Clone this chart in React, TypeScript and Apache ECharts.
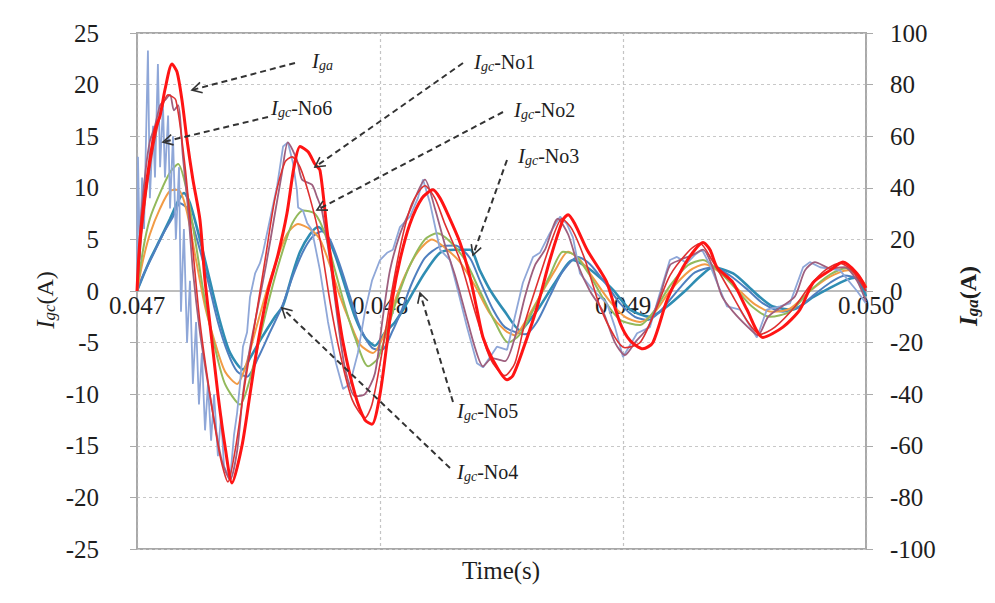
import React, { useEffect, useRef } from 'react';
import * as echarts from 'echarts';

// time in microseconds, value in A
const iga: [number, number][] = [
  [47000, 0], [47012, 19.6], [47041, 43.2], [47074, 62.4], [47095, 68], [47115, 78], [47144, 88], [47165, 84.8],
  [47185, 74], [47206, 58.4], [47230, 43.2], [47259, 27.6], [47280, 4], [47309, -20], [47333, -40], [47362, -60],
  [47391, -74.4], [47432, -60], [47465, -40], [47498, -20], [47539, 0], [47580, 14], [47617, 30], [47646, 48],
  [47671, 56], [47704, 54], [47732, 49.2], [47753, 46.8], [47782, 23.6], [47815, 0], [47848, -20], [47897, -40],
  [47938, -50], [47967, -51.6], [48000, -40], [48029, -20], [48053, -2], [48082, 12], [48123, 26], [48173, 36],
  [48218, 39.2], [48247, 36], [48276, 30.4], [48329, 18.8], [48370, 5.6], [48399, -7.2], [48424, -18], [48465, -26.8],
  [48523, -34.4], [48547, -32.8], [48588, -22.8], [48646, -6.4], [48699, 12], [48753, 27.6], [48774, 29.6], [48802, 26],
  [48852, 16], [48905, 8], [48934, 3.2], [48988, -12.4], [49029, -19.2], [49082, -22.4], [49123, -20], [49181, -3.6],
  [49247, 9.2], [49296, 16], [49329, 18.8], [49358, 16], [49387, 9.2], [49453, 3.2], [49510, -7.2], [49576, -18],
  [49658, -14], [49728, -7.2], [49782, 3.2], [49852, 8], [49905, 11.2], [49963, 6.8], [50000, 1.2],
];

const igcNo1: [number, number][] = [
  [47000, 0], [47021, 6], [47053, 12], [47095, 17], [47128, 19], [47160, 18.5], [47198, 12], [47230, 4], [47259, -3],
  [47300, -10], [47342, -16], [47374, -18.5], [47407, -15], [47444, -9], [47486, -3], [47527, 3], [47568, 9],
  [47609, 12.5], [47638, 13], [47671, 12], [47712, 9], [47753, 5], [47794, -1], [47835, -6], [47885, -10.5],
  [47938, -12.3], [47967, -11], [48008, -6], [48049, 0], [48090, 5], [48132, 8.5], [48185, 10.2], [48226, 9],
  [48267, 6.5], [48329, 3], [48391, -2], [48453, -6.5], [48514, -8.2], [48555, -7], [48597, -3], [48658, 1.5],
  [48708, 5], [48749, 7], [48790, 6], [48844, 3], [48905, -1.5], [48967, -4.5], [49008, -5.5], [49070, -5],
  [49132, -2], [49193, 1.5], [49276, 4], [49317, 4.6], [49366, 3], [49440, 0], [49514, -3], [49564, -4.2],
  [49625, -3.5], [49708, -1.5], [49769, 0.5], [49831, 2], [49893, 2.7], [49942, 2], [50000, 0],
];

const igcNo2: [number, number][] = [
  [47000, 0], [47025, 4], [47053, 7], [47095, 9.5], [47136, 11.5], [47169, 12.3], [47202, 10], [47239, 5], [47280, -1],
  [47321, -5.5], [47362, -9], [47424, -11], [47465, -8.5], [47506, -4.5], [47547, -0.5], [47588, 3], [47638, 6.5],
  [47683, 7.8], [47732, 7.5], [47774, 5.5], [47815, 2], [47856, -1.5], [47897, -4.5], [47951, -7.3], [47992, -6.5],
  [48033, -3.5], [48074, -0.5], [48123, 2.5], [48185, 5], [48235, 5.6], [48288, 4.8], [48350, 3], [48411, 0],
  [48473, -3], [48527, -5], [48576, -4.2], [48638, -1.5], [48699, 1.5], [48753, 3.8], [48802, 3.5], [48864, 1.5],
  [48926, -1], [48988, -2.8], [49070, -3.3], [49132, -1.8], [49193, 0.5], [49267, 2.5], [49329, 3], [49391, 2],
  [49461, 0.3], [49531, -1.5], [49605, -2.5], [49687, -2], [49769, 0], [49852, 1.6], [49918, 2.2], [49967, 1.5],
  [50000, 0.3],
];

const igcNo3: [number, number][] = [
  [47000, 0], [47025, 1.5], [47066, 3.5], [47107, 5.5], [47148, 7.2], [47177, 8.5], [47206, 8], [47247, 5], [47292, 1],
  [47333, -3], [47374, -6], [47412, -7.8], [47453, -8.3], [47498, -6.5], [47547, -4], [47597, -1.5], [47642, 1.5],
  [47683, 3.8], [47720, 5.2], [47761, 5.8], [47794, 5], [47835, 2.5], [47876, -0.5], [47918, -3.5], [47967, -5.5],
  [48008, -5.7], [48049, -4], [48090, -1.8], [48132, 0.8], [48185, 3.2], [48247, 4.3], [48309, 4.4], [48370, 3.2],
  [48411, 1], [48465, -1.8], [48514, -3.5], [48597, -4.2], [48646, -3], [48699, -0.5], [48749, 1.8], [48815, 3.3],
  [48864, 2.6], [48926, 0.8], [48988, -1.2], [49049, -2.5], [49103, -2.8], [49152, -2], [49234, 0.3], [49296, 1.8],
  [49370, 2.3], [49440, 1.5], [49514, 0.1], [49576, -1.2], [49658, -2], [49728, -1.5], [49790, -0.3], [49852, 0.8],
  [49913, 1.5], [49963, 1.2], [50000, 0],
];

const igcNo4: [number, number][] = [
  [47000, 0], [47053, 3], [47095, 5], [47136, 7], [47169, 8.7], [47193, 9.5], [47218, 8.5], [47259, 5], [47300, 1],
  [47342, -3], [47383, -6], [47436, -7.6], [47465, -6.5], [47514, -4.5], [47568, -2.5], [47601, -1.4], [47638, 1.5],
  [47671, 3.8], [47712, 5.5], [47745, 6.2], [47778, 5.5], [47815, 3.5], [47856, 0.5], [47897, -2.5], [47938, -4.5],
  [47979, -5.3], [48021, -4], [48062, -3], [48103, -1.5], [48144, 0.2], [48185, 1.8], [48247, 3.7], [48309, 4],
  [48370, 4], [48411, 2], [48453, 0.1], [48514, -2], [48576, -3.8], [48617, -2.8], [48658, -1.5], [48720, 0.8],
  [48794, 3], [48852, 2.3], [48905, 1.3], [48959, 0.1], [49029, -1.8], [49111, -2.5], [49181, -1.5], [49255, 0],
  [49317, 1.4], [49370, 2.3], [49453, 1.7], [49522, 0.3], [49564, -0.6], [49617, -1.5], [49699, -1.8], [49782, -0.6],
  [49852, 0.3], [49922, 1.1], [49955, 1.3], [50000, -0.5],
];

const igcNo5: [number, number][] = [
  [47000, 0], [47025, 3], [47053, 5.5], [47095, 8], [47136, 9.7], [47169, 9.8], [47202, 8], [47239, 3.5], [47280, -1.5],
  [47321, -5], [47362, -7.8], [47412, -9], [47444, -7.5], [47486, -4], [47527, -0.5], [47568, 2.5], [47617, 5.5],
  [47663, 6.5], [47712, 6], [47753, 5], [47794, 2.5], [47835, -0.5], [47876, -3], [47918, -5.2], [47971, -6],
  [48012, -4.5], [48053, -1.5], [48103, 1.5], [48156, 3.8], [48214, 5], [48267, 4.2], [48329, 2.8], [48391, 0.5],
  [48453, -2.2], [48514, -3.8], [48555, -4.3], [48597, -3], [48658, -0.5], [48720, 2], [48774, 3.8], [48823, 3],
  [48885, 1], [48946, -1], [49008, -2.5], [49070, -3], [49132, -2], [49193, 0], [49276, 2], [49337, 2.6], [49399, 1.8],
  [49481, 0], [49543, -1.3], [49613, -2], [49687, -1.7], [49769, 0], [49852, 1.4], [49926, 2], [49967, 1.5], [50000, 0.5],
];

const igcNo6: [number, number][] = [
  [47000, 0], [47016, 7], [47037, 12], [47053, 14.5], [47074, 16], [47095, 18], [47115, 18.5], [47136, 19], [47152, 17.5],
  [47169, 18], [47189, 13], [47210, 8], [47230, 2], [47259, -4], [47292, -9], [47321, -13], [47350, -16.5], [47383, -18.3],
  [47412, -15.5], [47436, -10], [47465, -5.5], [47498, -1.5], [47531, 2.5], [47564, 7], [47597, 11.5], [47621, 14.4],
  [47658, 12.7], [47679, 10.8], [47720, 10.3], [47741, 9.1], [47761, 7.8], [47794, 3], [47827, -3], [47856, -7.5],
  [47897, -10.2], [47938, -10], [47979, -8], [48012, -2.5], [48041, 2], [48082, 5.5], [48123, 7.8], [48185, 10.8],
  [48226, 8], [48267, 4.5], [48309, 1.5], [48350, -2], [48391, -5.5], [48424, -7.3], [48461, -6.5], [48514, -6.8],
  [48555, -4.5], [48597, -0.5], [48638, 2.5], [48679, 4], [48732, 7], [48774, 5.5], [48815, 2.5], [48864, 0],
  [48918, -2], [48967, -5], [49008, -6.2], [49049, -5], [49103, -3.5], [49152, -0.5], [49193, 2.5], [49234, 3],
  [49288, 3.5], [49329, 4], [49366, 2.5], [49407, -0.5], [49453, -2], [49514, -3.5], [49555, -4.3], [49597, -2.5],
  [49654, -1.5], [49708, -0.5], [49749, 2], [49790, 2.8], [49852, 2.2], [49913, 2.3], [49963, 1], [50000, -1],
];

const igcFast: [number, number][] = [
  [47000, 0], [47004, 13], [47012, 3], [47021, 11], [47029, 6], [47045, 23.3], [47053, 9], [47066, 16], [47074, 11],
  [47086, 22], [47095, 12], [47107, 18], [47115, 11], [47128, 17], [47136, 8], [47148, 15], [47160, 5], [47173, 12],
  [47181, -2], [47193, 6], [47206, -5], [47218, 1], [47230, -9], [47243, -3], [47255, -11], [47267, -6], [47280, -13.5],
  [47292, -9], [47305, -14.5], [47317, -10], [47333, -16], [47346, -12], [47358, -17], [47383, -18.3], [47399, -14],
  [47412, -11.8], [47424, -9], [47436, -5.4], [47453, -4], [47465, -0.6], [47486, 1.7], [47506, 2.7], [47518, 3.7],
  [47547, 6.9], [47576, 10.1], [47601, 14], [47621, 14.4], [47642, 12.4], [47658, 9.8], [47663, 8.1], [47683, 7.8],
  [47700, 6.6], [47720, 5.9], [47753, 2], [47786, -3], [47819, -7], [47848, -9.5], [47876, -9], [47909, -6],
  [47938, -2], [47967, 1], [48000, 3], [48029, 3.7], [48053, 4], [48082, 6.2], [48123, 7.2], [48156, 9], [48177, 10.8],
  [48206, 8.5], [48218, 7.2], [48247, 4], [48288, 3], [48321, 0], [48358, -3.5], [48399, -7], [48424, -7.4],
  [48453, -6.4], [48481, -5.4], [48523, -5.7], [48555, -2.5], [48588, 0.8], [48630, 3.3], [48658, 3.7], [48699, 5.6],
  [48741, 7.2], [48769, 6.5], [48794, 5.2], [48823, 1.7], [48876, 0.1], [48934, -1.2], [48967, -3.5], [49000, -6.4],
  [49058, -4.1], [49111, -3.5], [49152, -0.2], [49193, 3], [49222, 3.3], [49263, 2.7], [49296, 3.5], [49325, 4],
  [49358, 2.5], [49387, 0.8], [49428, -1.5], [49481, -1.8], [49551, -4.5], [49592, -1.8], [49646, -1.5], [49687, -1.2],
  [49741, 2.3], [49769, 2.8], [49811, 2.3], [49893, 2], [49963, 0], [50000, -1.2],
];

const leftTicks = { min: -25, max: 25, step: 5 };
const rightTicks = { min: -100, max: 100, step: 20 };
const timeTicks = { min: 47000, max: 50000, step: 1000 };

const SERIF = '"Liberation Serif", "Times New Roman", serif';
const TEXT = '#1e1e1e';

function subText(sub: string, tail: string, bold = false, size = 20) {
  const w = bold ? 'bold' : 'normal';
  return {
    text: `{i|I}{s|${sub}}{n|${tail}}`,
    rich: {
      i: { fontFamily: SERIF, fontStyle: 'italic', fontWeight: w, fontSize: size + 1, lineHeight: size + 2, fill: TEXT, color: TEXT },
      s: { fontFamily: SERIF, fontStyle: 'italic', fontWeight: w, fontSize: Math.round(size * 0.7), lineHeight: 8, verticalAlign: 'bottom', fill: TEXT, color: TEXT },
      n: { fontFamily: SERIF, fontWeight: w, fontSize: size, lineHeight: size + 2, fill: TEXT, color: TEXT },
    },
  };
}

function arrow(sx: number, sy: number, tx: number, ty: number) {
  const d = Math.hypot(sx - tx, sy - ty);
  const ux = (sx - tx) / d;
  const uy = (sy - ty) / d;
  const len = 11;
  const a = 0.5;
  const p1 = [tx + len * (ux * Math.cos(a) - uy * Math.sin(a)), ty + len * (ux * Math.sin(a) + uy * Math.cos(a))];
  const p2 = [tx + len * (ux * Math.cos(-a) - uy * Math.sin(-a)), ty + len * (ux * Math.sin(-a) + uy * Math.cos(-a))];
  return [
    { type: 'line', z: 100, shape: { x1: sx, y1: sy, x2: tx, y2: ty }, style: { stroke: '#333', lineWidth: 2, lineDash: [6, 4] } },
    { type: 'polyline', z: 100, shape: { points: [p1, [tx, ty], p2] }, style: { stroke: '#333', lineWidth: 1.6, fill: null } },
  ];
}

function label(x: number, y: number, sub: string, tail: string) {
  const t = subText(sub, tail);
  return {
    type: 'text', z: 100, x, y,
    style: { ...t, x: 0, y: 0, align: 'left', verticalAlign: 'middle', textAlign: 'left', textVerticalAlign: 'middle' },
  };
}

export default function App() {
  const ref = useRef<HTMLDivElement>(null);
  useEffect(() => {
    const chart = echarts.init(ref.current!, null, { renderer: 'svg' });
    const mk = (name: string, data: [number, number][], color: string, width: number, yAxisIndex = 0, smooth: number | boolean = 0.25) => ({
      name, type: 'line', data, yAxisIndex, smooth, showSymbol: false, symbol: 'none',
      lineStyle: { color, width }, itemStyle: { color },
    });
    const axisLabel = { fontFamily: SERIF, fontSize: 25, color: TEXT };
    const leftTitle = subText('gc', '(A)', false, 24);
    const rightTitle = subText('ga', '(A)', true, 24);
    const gridTop = 33;
    const gridBottom = 54;
    const plotH = 603 - gridTop - gridBottom;
    const option: any = {
      animation: false,
      backgroundColor: '#fff',
      grid: { left: 137, right: 129, top: gridTop, bottom: gridBottom, show: true, borderColor: '#a8a8a8', borderWidth: 2 },
      xAxis: {
        type: 'value', min: timeTicks.min, max: timeTicks.max, interval: timeTicks.step,
        position: 'bottom', offset: -plotH / 2,
        axisLine: { show: true, onZero: false, lineStyle: { color: '#bdbdbd', width: 2 } },
        axisTick: { show: false },
        axisLabel: { ...axisLabel, margin: 2, formatter: (v: number) => (v / 1e6).toFixed(3) },
        splitLine: { show: true, lineStyle: { color: '#c4c4c4', type: [3, 3], width: 1.2 } },
      },
      yAxis: [
        {
          type: 'value', position: 'left', min: leftTicks.min, max: leftTicks.max, interval: leftTicks.step,
          axisLine: { show: true, onZero: false, lineStyle: { color: '#aaa', width: 1.5 } },
          axisTick: { show: true, inside: false, length: 7, lineStyle: { color: '#aaa' } },
          axisLabel: { ...axisLabel, margin: 38 },
          splitLine: { show: true, lineStyle: { color: '#c8c8c8', type: [3, 3], width: 1.2 } },
        },
        {
          type: 'value', position: 'right', min: rightTicks.min, max: rightTicks.max, interval: rightTicks.step,
          axisLine: { show: true, onZero: false, lineStyle: { color: '#aaa', width: 1.5 } },
          axisTick: { show: true, inside: false, length: 7, lineStyle: { color: '#aaa' } },
          axisLabel: { ...axisLabel, margin: 24 },
          splitLine: { show: false },
        },
      ],
      series: [
        mk('Igc-No4', igcNo4, '#2f8db3', 2.6),
        mk('Igc-No3', igcNo3, '#4f7fbf', 2),
        mk('Igc-No5', igcNo5, '#f29b45', 2),
        mk('Igc-No2', igcNo2, '#93b95b', 2),
        mk('Igc-fast', igcFast, '#8fa7d8', 1.8, 0, false),
        mk('Igc-No6', igcNo6, '#9e5f7e', 1.8),
        mk('Igc-No1', igcNo1, '#de3030', 1.6),
        mk('Iga', iga, '#ff1414', 3, 1),
      ],
      graphic: [
        { type: 'text', z: 100, x: 45, y: 300, rotation: Math.PI / 2, style: { ...leftTitle, x: 0, y: 0, align: 'center', verticalAlign: 'middle', textAlign: 'center', textVerticalAlign: 'middle' } },
        { type: 'text', z: 100, x: 968, y: 296, rotation: Math.PI / 2, style: { ...rightTitle, x: 0, y: 0, align: 'center', verticalAlign: 'middle', textAlign: 'center', textVerticalAlign: 'middle' } },
        { type: 'text', z: 100, x: 501, y: 570, style: { text: 'Time(s)', x: 0, y: 0, font: `25px ${SERIF}`, fill: TEXT, align: 'center', verticalAlign: 'middle', textAlign: 'center', textVerticalAlign: 'middle' } },
        label(312, 61, 'ga', ''),
        label(271, 108, 'gc', '-No6'),
        label(474, 62, 'gc', '-No1'),
        label(514, 110, 'gc', '-No2'),
        label(518, 156, 'gc', '-No3'),
        label(457, 411, 'gc', '-No5'),
        label(457, 472, 'gc', '-No4'),
        ...arrow(295, 63, 192, 90),
        ...arrow(268, 117, 163, 142),
        ...arrow(463, 63, 315, 167),
        ...arrow(503, 112, 317, 210),
        ...arrow(507, 160, 473, 255),
        ...arrow(453, 402, 420, 293),
        ...arrow(450, 468, 282, 308),
      ],
    };
    chart.setOption(option);
    return () => chart.dispose();
  }, []);
  return <div ref={ref} style={{ position: 'fixed', left: 0, top: 0, width: 995, height: 603 }} />;
}
